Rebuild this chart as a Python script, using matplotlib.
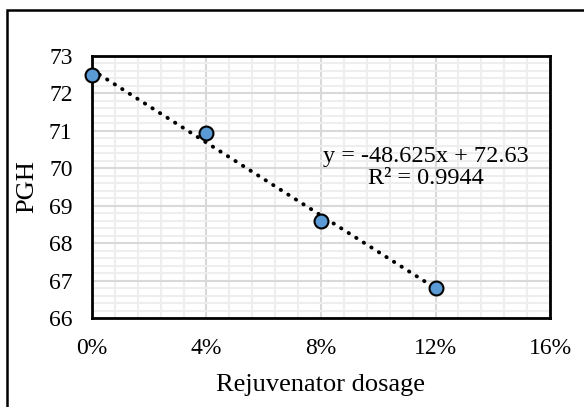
import numpy as np
import matplotlib
matplotlib.use('Agg')
import matplotlib.pyplot as plt
from matplotlib.ticker import MultipleLocator, FuncFormatter
from matplotlib.patches import Rectangle

# data
dosage = [0.00, 0.04, 0.08, 0.12]
pgh = [72.5, 70.95, 68.6, 66.8]

plt.rcParams['font.family'] = 'Liberation Serif'

fig = plt.figure(figsize=(5.84, 4.07), dpi=100)
ax = fig.add_axes([0.1575, 0.2187, 0.7843, 0.6437])

# linear trendline
slope, icpt = np.polyfit(dosage, pgh, 1)
pred = np.polyval([slope, icpt], dosage)
r2 = 1 - np.sum((np.array(pgh) - pred) ** 2) / np.sum((np.array(pgh) - np.mean(pgh)) ** 2)
xt = np.array([dosage[0], dosage[-1]])
ax.plot(xt, slope * xt + icpt, color='black', linestyle=(0, (0.1, 2.2)),
        linewidth=2.8, dash_capstyle='round', zorder=3)

ax.plot(dosage, pgh, 'o', markersize=10, markerfacecolor='#5B9BD5',
        markeredgecolor='black', markeredgewidth=1.5, zorder=4, clip_on=False)

ax.set_xlim(0, 0.16)
ax.set_ylim(66, 73)
ax.xaxis.set_major_locator(MultipleLocator(0.04))
ax.xaxis.set_minor_locator(MultipleLocator(0.008))
ax.yaxis.set_major_locator(MultipleLocator(1))
ax.yaxis.set_minor_locator(MultipleLocator(0.2))
ax.xaxis.set_major_formatter(FuncFormatter(lambda v, p: '%d%%' % round(v * 100)))

ax.grid(which='major', color='#D9D9D9', linewidth=1.5, zorder=1)
ax.grid(which='minor', color='#EEEEEE', linewidth=1.5, zorder=0)
ax.set_axisbelow(True)
ax.tick_params(which='both', length=0, labelsize=17)
ax.tick_params(axis='x', pad=14.5)
ax.tick_params(axis='y', pad=14)
for s in ax.spines.values():
    s.set_linewidth(2)
    s.set_color('black')

ax.set_xlabel('Rejuvenator dosage', fontsize=19, va='center')
ax.xaxis.set_label_coords(0.5, -0.256)
ax.set_ylabel('PGH', fontsize=19, va='center', ha='center')
ax.yaxis.set_label_coords(-0.142, 0.5)

ax.text(0.73, 0.574, 'y = %.3fx + %.2f\nR² = %.4f' % (slope, icpt, r2),
        transform=ax.transAxes, ha='center', va='center', multialignment='center',
        fontsize=17.5, linespacing=1.1)

# outer chart border
fig.patches.append(Rectangle((7 / 584, -0.1), 1.2, 1 - 10 / 407 + 0.1,
                             transform=fig.transFigure, fill=False,
                             edgecolor='black', linewidth=1.8))

fig.savefig('out.png', dpi=100)
